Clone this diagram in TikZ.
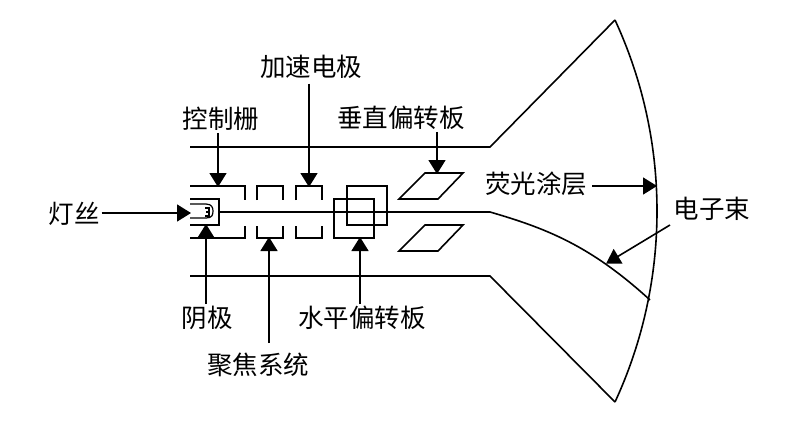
\documentclass[tikz,border=0pt]{standalone}
\usepackage{fontspec}
\setmainfont{Noto Sans CJK SC}
\usetikzlibrary{arrows.meta}
\tikzset{
    part/.style={line width=1.6pt},
    thinpart/.style={line width=1.2pt},
    pointer/.style={line width=1.6pt,-{Triangle[length=14pt,width=17pt]},shorten >=-1pt},
    caption/.style={inner sep=0pt,outer sep=2pt,font=\fontsize{25.5}{26}\selectfont}
}
\begin{document}
\begin{tikzpicture}[x=1pt,y=-1pt]
    \useasboundingbox (0,0) rectangle (787,434);

    % Drawing the tube wall and the screen
    \draw [part] (190,147) -- (490,147) -- (615,20);%
    \draw [part] (190,276) -- (490,276) -- (615,402);%
    \draw [part] (615,20) .. controls (671,141) and (671,281) .. (615,402);%

    % Drawing the cathode and the filament
    \draw [part] (190,199) -- (219,199) -- (219,225) -- (190,225);%
    \draw [thinpart] (190,204) -- (206,204) .. controls (212,204) and (213,208) .. (213,211) .. controls (213,215) and (212,218) .. (206,218) -- (190,218);%
    \draw [thinpart] (205,208) -- (209,208) -- (209,212) -- (206,212) -- (209,212) -- (209,216) -- (205,216);%

    % Drawing the beam
    \draw [part] (219,212) -- (490,212) .. controls (545,228) and (590,245) .. (650,300);%

    % Drawing control grid
    \draw [part] (190,186) -- (245,186) -- (245,200);%
    \draw [part] (190,238) -- (245,238) -- (245,226);%

    % Drawing focus system
    \draw [part] (257,200) -- (257,186) -- (283,186) -- (283,200);%
    \draw [part] (257,226) -- (257,238) -- (283,238) -- (283,226);%

    % Drawing accelerating electrode
    \draw [part] (296,200) -- (296,186) -- (322,186) -- (322,200);%
    \draw [part] (296,226) -- (296,238) -- (322,238) -- (322,226);%

    % Drawing horizontal plates
    \draw [part] (334,199) rectangle (374,238);%
    \draw [part] (347,186) rectangle (387,225);%

    % Drawing vertical plates
    \draw [part] (399,199) -- (438,199) -- (463,173) -- (425,173) -- cycle;%
    \draw [part] (399,251) -- (438,251) -- (463,225) -- (425,225) -- cycle;%

    % Marking the labels
    \node [caption] (accel) at (311,67) {加速电极};
    \node [caption] (grid) at (221,119) {控制栅};
    \node [caption] (vplate) at (401,118) {垂直偏转板};
    \node [caption] (lamp) at (74,214) {灯丝};
    \node [caption] (phosphor) at (536,184) {荧光涂层};
    \node [caption] (beam) at (712,209) {电子束};
    \node [caption] (cathode) at (207,318) {阴极};
    \node [caption] (hplate) at (362,318) {水平偏转板};
    \node [caption] (focus) at (258,365) {聚焦系统};

    % Marking the arrow ends
    \coordinate (accelend) at (309,186);
    \coordinate (gridend) at (218,186);
    \coordinate (vplateend) at (437,173);
    \coordinate (lampend) at (190,213);
    \coordinate (phosphorend) at (656,186);
    \coordinate (beamstart) at (670,225);
    \coordinate (beamend) at (607,263);
    \coordinate (cathodeend) at (206,225);
    \coordinate (hplateend) at (360,238);
    \coordinate (focusend) at (269,238);

    % Drawing the arrows
    \draw [pointer] ([yshift=-3pt]accelend |- accel.south) -- (accelend);%
    \draw [pointer] (gridend |- grid.south) -- (gridend);%
    \draw [pointer] (vplateend |- vplate.south) -- (vplateend);%
    \draw [pointer] (lamp.east |- lampend) -- (lampend);%
    \draw [pointer] ([xshift=3pt]phosphor.east |- phosphorend) -- (phosphorend);%
    \draw [pointer] (beamstart) -- (beamend);%
    \draw [pointer] (cathodeend |- cathode.north) -- (cathodeend);%
    \draw [pointer] (hplateend |- hplate.north) -- (hplateend);%
    \draw [pointer] ([yshift=8pt]focusend |- focus.north) -- (focusend);%
\end{tikzpicture}
\end{document}
